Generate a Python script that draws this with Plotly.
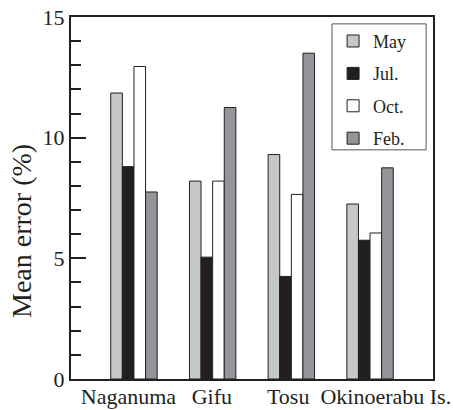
import plotly.graph_objects as go

sites = ["Naganuma", "Gifu", "Tosu", "Okinoerabu Is."]
months = ["May", "Jul.", "Oct.", "Feb."]
may = [11.85, 8.2, 9.3, 7.25]
jul = [8.8, 5.05, 4.25, 5.75]
oct_ = [12.95, 8.2, 7.65, 6.05]
feb = [7.75, 11.25, 13.5, 8.75]
series = [may, jul, oct_, feb]
colors = ["#c6c7c9", "#231f20", "#ffffff", "#939598"]
label_pos = [-0.07, 0.99, 1.96, 3.2]
ytick_vals = [0, 5, 10, 15]

FONT = "Liberation Serif"
INK = "#231f20"

fig = go.Figure()
xpos = list(range(len(sites)))
for i, (name, vals, col) in enumerate(zip(months, series, colors)):
    fig.add_trace(go.Bar(
        x=xpos, y=vals, name=name, legendgroup=name,
        marker=dict(color=col, line=dict(color=INK, width=1)),
    ))

fig.update_layout(
    width=453, height=410,
    margin=dict(l=71, r=20, t=17, b=31, autoexpand=False),
    paper_bgcolor="white", plot_bgcolor="white",
    barmode="group", bargap=0.41, bargroupgap=0,
    font=dict(family=FONT, color=INK, size=21),
    showlegend=True,
    legend=dict(
        x=0.724, y=0.984, xanchor="left", yanchor="top",
        bgcolor="rgba(0,0,0,0)", borderwidth=0,
        font=dict(family=FONT, size=18, color=INK),
        tracegroupgap=6, itemwidth=30,
    ),
    shapes=[dict(
        type="rect", xref="paper", yref="paper",
        x0=0.721, x1=0.981, y0=0.633, y1=0.981,
        line=dict(color="#555555", width=1), fillcolor="white", layer="above",
    )],
    xaxis=dict(
        range=[-0.8, 3.8], tickmode="array", tickvals=label_pos, ticktext=sites,
        ticks="", showline=True, linecolor=INK, linewidth=2, mirror=True,
        showgrid=False, zeroline=False, tickfont=dict(size=22),
        ticklabelstandoff=-3, automargin=False,
    ),
    yaxis=dict(
        range=[0, 15], tickmode="array", tickvals=ytick_vals,
        ticks="inside", ticklen=15, tickwidth=1.5, tickcolor=INK,
        minor=dict(dtick=1, ticks="inside", ticklen=10, tickwidth=1.5, tickcolor=INK),
        showline=True, linecolor=INK, linewidth=2, mirror=True,
        showgrid=False, zeroline=False, tickfont=dict(size=22), automargin=False,
    ),
    annotations=[dict(
        text="Mean error (%)", textangle=-90, showarrow=False,
        xref="paper", yref="paper",
        x=(22 - 71) / 362, y=(379 - 231) / 362,
        xanchor="center", yanchor="middle",
        font=dict(family=FONT, size=28, color=INK),
    )],
)

fig.write_html("out.html")
